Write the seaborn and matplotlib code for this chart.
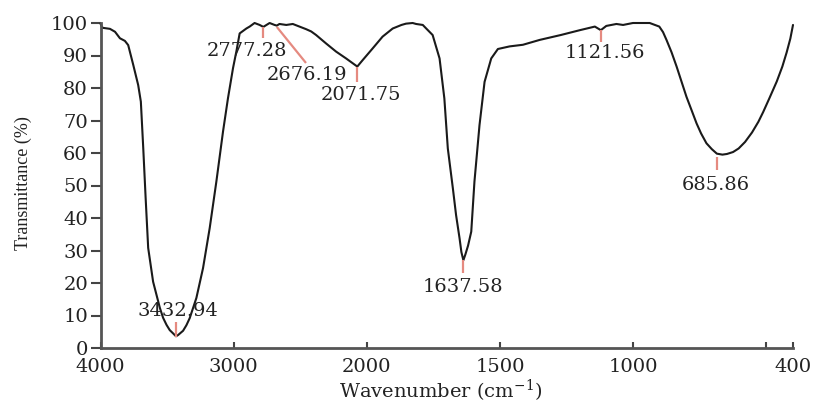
import numpy as np
import pandas as pd
import matplotlib
matplotlib.use("Agg")
import matplotlib.pyplot as plt
import seaborn as sns

# Spectrum (wavenumber, transmittance %)
wavenumber = [4000, 3990, 3981, 3929, 3891, 3854, 3817, 3792, 3754, 3717, 3697, 3679,
              3661, 3642, 3605, 3554, 3530, 3504, 3480, 3455, 3432.94, 3417, 3400,
              3380, 3355, 3330, 3280,
              3230, 3180, 3130, 3080, 3043, 3005, 2980, 2955, 2905, 2880, 2843,
              2805, 2777.28, 2730, 2693, 2676.19, 2656, 2605, 2556, 2506, 2456,
              2418, 2381, 2306, 2231, 2156, 2071.75, 2031, 1978, 1941, 1903, 1870,
              1853, 1828, 1815, 1790, 1777, 1753, 1727, 1709, 1696, 1677, 1665, 1652,
              1645, 1637.58, 1630, 1620, 1608, 1596, 1577, 1558, 1533, 1508, 1464,
              1414, 1351, 1272, 1200, 1144, 1121.56, 1101, 1063, 1038, 1001, 938,
              902, 888, 875, 856, 837, 800, 780,
              762, 745, 725, 705, 685.86, 665, 648, 625, 604, 580, 554, 530, 512,
              490, 461, 440, 424, 410, 400]
transmittance = [99.8, 98.8, 98.5, 98.2, 97.3, 95.3, 94.5, 93.2, 87.1, 80.9, 75.8, 61.5,
                 46.1, 30.8, 20.4, 12.3, 9.3, 7.1, 5.5, 4.5, 3.6, 4.0, 4.6,
                 5.3, 7.0, 9.2, 15.4,
                 24.6, 36.9, 51.2, 66.6, 76.8, 86.1, 91.2, 96.8, 98.3, 98.9, 100.0,
                 99.4, 98.8, 100.0, 99.4, 99.2, 99.7, 99.4, 99.7, 98.9, 98.1,
                 97.4, 96.3, 93.7, 91.2, 89.1, 86.6, 88.6, 92.2, 95.8, 98.3, 99.4,
                 99.8, 100.0, 99.7, 99.4, 98.3, 96.3, 89.1, 76.8, 61.4, 49.1, 40.9, 33.8,
                 29.5, 27.0, 28.8, 31.5, 35.8, 51.2, 68.6, 81.9, 89.1, 92.0, 92.8,
                 93.3, 94.8, 96.3, 97.8, 98.9, 97.8, 99.1, 99.7, 99.4, 100.0, 100.0,
                 98.9, 97.2, 94.8, 91.0, 86.6, 77.3, 73.0,
                 69.1, 66.0, 63.0, 61.2, 59.8, 59.5, 59.7, 60.3, 61.4, 63.4, 66.3, 69.6, 72.6,
                 76.6, 82.0, 86.6, 90.9, 95.2, 99.4]

# Peak labels
peak_labels = ["3432.94", "2777.28", "2676.19", "2071.75", "1637.58", "1121.56", "685.86"]
peak_pos = [3432.94, 2777.28, 2676.19, 2071.75, 1637.58, 1121.56, 685.86]
label_x = [3420, 2903, 2446, 2041, 1639, 1105, 688]
label_y = [11.4, 91.4, 84.0, 77.8, 18.8, 90.8, 50.2]
mark_lo = [3.4, 95.4, 87.7, 81.8, 23.1, 94.2, 54.8]
mark_hi = [8.0, 98.8, 98.8, 86.5, 27.1, 97.8, 58.8]
mark_x2 = [3432.94, 2777.28, 2457, 2071.75, 1637.58, 1121.56, 685.86]

xticks = [4000, 3000, 2000, 1500, 1000, 500, 400]
xticklabels = ["4000", "3000", "2000", "1500", "1000", "", "400"]
yticks = list(range(0, 101, 10))

sns.set_style("ticks")
plt.rcParams["font.family"] = ["DejaVu Serif"]
plt.rcParams["mathtext.fontset"] = "dejavuserif"

fig = plt.figure(figsize=(8.18, 4.05), dpi=100)
ax = fig.add_axes([100.5 / 818, 1 - 348 / 405, 692.5 / 818, 325 / 405])


def fwd(x):
    x = np.asarray(x, dtype=float)
    return np.where(x >= 2000, x, 2 * x - 2000)


def inv(t):
    t = np.asarray(t, dtype=float)
    return np.where(t >= 2000, t, (t + 2000) / 2)


ax.set_xscale("function", functions=(fwd, inv))

df = pd.DataFrame({"wn": wavenumber, "T": transmittance})
sns.lineplot(data=df, x="wn", y="T", sort=False, estimator=None,
             color="#1a1a1a", linewidth=1.5, ax=ax, clip_on=False)

red = "#e58a80"
for lab, px, lx, ly, lo, hi, x2 in zip(peak_labels, peak_pos, label_x, label_y,
                                        mark_lo, mark_hi, mark_x2):
    if x2 == px:
        ax.plot([px, px], [lo, hi], color=red, lw=1.6, solid_capstyle="butt")
    else:
        ax.plot([px, x2], [hi, lo], color=red, lw=1.6, solid_capstyle="butt")
    ax.text(lx, ly, lab, ha="center", va="center", fontsize=14, color="#222222")

ax.set_xlim(4000, 400)
ax.set_ylim(0, 100)
ax.set_xticks(xticks)
ax.set_xticklabels(xticklabels)
ax.set_yticks(yticks)
ax.tick_params(axis="x", direction="in", length=4, width=1.5, pad=7,
               labelsize=14, colors="#444444", labelcolor="#222222")
ax.tick_params(axis="y", direction="out", length=7, width=1.5, pad=2,
               labelsize=14, colors="#444444", labelcolor="#222222")
ax.minorticks_off()
for s in ["top", "right"]:
    ax.spines[s].set_visible(False)
for s in ["left", "bottom"]:
    ax.spines[s].set_linewidth(2)
    ax.spines[s].set_color("#555555")
ax.set_xlabel("")
ax.set_ylabel("")

fig.text(23 / 818, 1 - 183 / 405, "Transmittance (%)", rotation=90,
         ha="center", va="center", fontsize=13, family=["Liberation Serif"],
         color="#222222")
fig.text(441 / 818, 1 - 391 / 405, "Wavenumber (cm$^{-1}$)", ha="center",
         va="center", fontsize=14, color="#222222")

fig.savefig("out.png", dpi=100)
